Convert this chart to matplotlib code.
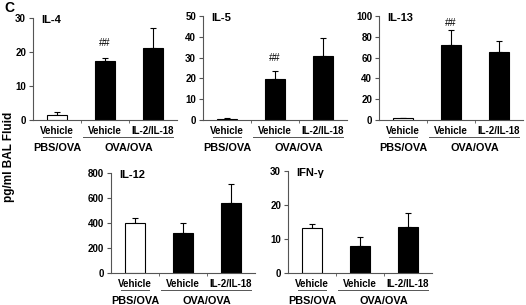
import matplotlib
matplotlib.use("Agg")
import matplotlib.pyplot as plt
import matplotlib.transforms as mtransforms
import numpy as np

plt.rcParams['font.family'] = ['Liberation Sans', 'DejaVu Sans']
plt.rcParams['font.weight'] = 'bold'

categories = ["Vehicle", "Vehicle", "IL-2/IL-18"]
groups = ["PBS/OVA", "OVA/OVA"]

panels = ["IL-4", "IL-5", "IL-13", "IL-12", "IFN-γ"]
means = {
    "IL-4": [1.5, 17.3, 21.2],
    "IL-5": [0.5, 19.5, 31.0],
    "IL-13": [1.5, 72.0, 65.5],
    "IL-12": [403, 317, 564],
    "IFN-γ": [13.3, 8.0, 13.6],
}
errors = {
    "IL-4": [0.8, 0.8, 6.0],
    "IL-5": [0.4, 4.2, 8.5],
    "IL-13": [0.5, 15.0, 10.0],
    "IL-12": [40, 86, 147],
    "IFN-γ": [1.2, 2.6, 4.0],
}
ymax = {"IL-4": 30, "IL-5": 50, "IL-13": 100, "IL-12": 800, "IFN-γ": 30}
yticks = {
    "IL-4": [0, 10, 20, 30],
    "IL-5": [0, 10, 20, 30, 40, 50],
    "IL-13": [0, 20, 40, 60, 80, 100],
    "IL-12": [0, 200, 400, 600, 800],
    "IFN-γ": [0, 10, 20, 30],
}
sig_marks = {"IL-4": [None, "##", None], "IL-5": [None, "##", None],
             "IL-13": [None, "##", None], "IL-12": [None, None, None],
             "IFN-γ": [None, None, None]}
sig_heights = {"IL-4": 22.6, "IL-5": 29.8, "IL-13": 93}

W, H = 526, 305
fig = plt.figure(figsize=(W / 100, H / 100), dpi=100)

# pixel rects: left, top, width, height
rects = {
    "IL-4": (33, 18, 144, 102),
    "IL-5": (203, 16, 144, 104),
    "IL-13": (379, 16, 144, 104),
    "IL-12": (111, 173, 144, 100),
    "IFN-γ": (288, 171, 144, 102),
}

bar_colors = ["white", "black", "black"]
x = np.arange(3)
axis_col = "#555555"

for name in panels:
    l, t, w, h = rects[name]
    ax = fig.add_axes([l / W, (H - t - h) / H, w / W, h / H])
    ax.bar(x, means[name], width=0.41, color=bar_colors, edgecolor="black", linewidth=0.8, zorder=2)
    ax.errorbar(x, means[name], yerr=[np.zeros(3), errors[name]], fmt="none",
                ecolor="black", elinewidth=0.8, capsize=2.5, capthick=0.8, zorder=1)
    ax.set_ylim(0, ymax[name])
    ax.set_xlim(-0.5, 2.5)
    ax.set_yticks(yticks[name])
    ax.tick_params(axis="y", labelsize=7, length=3, width=0.8, pad=2, color=axis_col)
    for lab in ax.get_yticklabels():
        lab.set_fontweight("bold")
    ax.set_xticks([0.5, 1.5])
    ax.set_xticklabels([])
    ax.tick_params(axis="x", length=2, width=0.6, color=axis_col)
    for s in ["top", "right"]:
        ax.spines[s].set_visible(False)
    for s in ["left", "bottom"]:
        ax.spines[s].set_linewidth(0.8)
        ax.spines[s].set_color(axis_col)
    ax.patch.set_alpha(0)
    ax.text(0.06, 0.98, name, transform=ax.transAxes, fontsize=8, fontweight="bold",
            va="center", ha="left")
    for i, m in enumerate(sig_marks[name]):
        if m:
            ax.text(x[i], sig_heights[name], m, ha="center", va="center", fontsize=7.5,
                    fontweight="normal")
    tr = ax.get_xaxis_transform()
    for i, c in enumerate(categories):
        ax.annotate(c, xy=(x[i], 0), xycoords=tr, xytext=(0, -7.9), textcoords="offset points",
                    ha="center", va="center", fontsize=7, fontweight="bold")
    # underlines
    for (x0, x1) in [(x[0] - 0.3, x[0] + 0.3), (x[1] - 0.46, x[2] + 0.42)]:
        line = plt.Line2D([x0, x1], [0, 0], color=axis_col, linewidth=0.7,
                          transform=tr + mtransforms.ScaledTranslation(0, -12.4 / 72, fig.dpi_scale_trans),
                          clip_on=False)
        ax.add_line(line)
    ax.annotate(groups[0], xy=(x[0], 0), xycoords=tr, xytext=(0, -20), textcoords="offset points",
                ha="center", va="center", fontsize=7.8, fontweight="bold")
    ax.annotate(groups[1], xy=((x[1] + x[2]) / 2, 0), xycoords=tr, xytext=(0, -20), textcoords="offset points",
                ha="center", va="center", fontsize=7.8, fontweight="bold")

fig.text(4 / W, 1 - 8 / H, "C", fontsize=10, fontweight="bold", ha="left", va="center")
fig.text(9 / W, 1 - 157 / H, "pg/ml BAL Fluid", rotation=90, fontsize=8.5, fontweight="bold",
         ha="center", va="center")

fig.savefig("out.png", dpi=100)
